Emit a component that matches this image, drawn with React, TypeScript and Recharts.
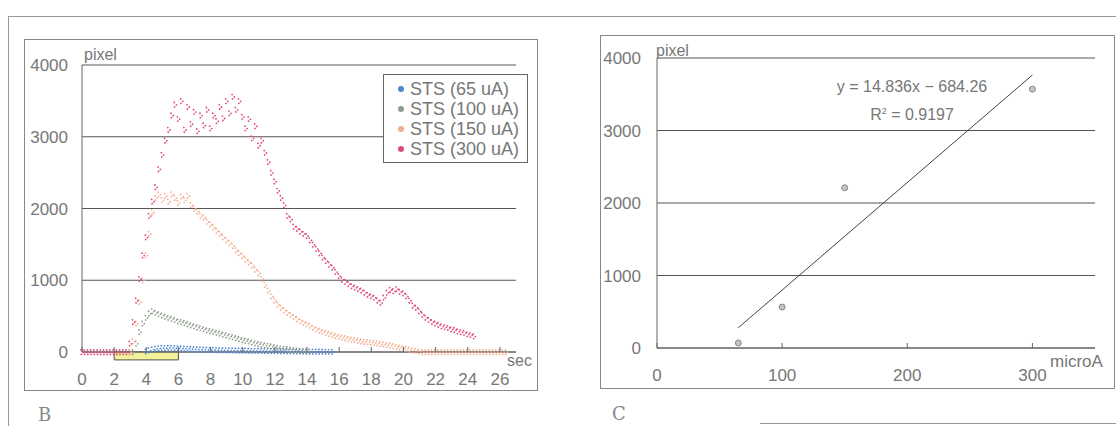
import React from "react";
import { ScatterChart, Scatter, XAxis, YAxis, CartesianGrid, Legend, ReferenceArea } from "recharts";

// sampling step of the time traces (sec)
const STEP = 0.2;

// panel B: pixel counts per trace
const sts65Start = 4.0;
const sts65 = [
  10, 25, 40, 50, 55, 60, 58, 62, 60, 58, 55, 52, 50, 48, 45, 42, 40, 38, 36, 35,
  33, 32, 30, 29, 28, 27, 26, 25, 24, 23, 22, 21, 21, 20, 19, 19, 18, 17, 17, 16,
  15, 15, 14, 13, 13, 12, 12, 11, 10, 10, 9, 9, 8, 8, 7, 7, 6, 6, 5,
];
const sts100Start = 3.0;
const sts100 = [
  0, 0, 120, 280, 400, 480, 540, 570, 550, 530,
  510, 495, 480, 465, 450, 430, 420, 405, 390, 375,
  360, 345, 335, 320, 305, 295, 285, 270, 260, 245,
  235, 220, 210, 195, 185, 170, 160, 150, 135, 125,
  115, 105, 95, 90, 80, 70, 62, 55, 48, 42,
  36, 30, 25, 20, 15, 10,
];
const sts150Start = 3.0;
const sts150 = [
  0, 150, 400, 700, 1000, 1350, 1650, 1950, 2150, 2200,
  2120, 2180, 2100, 2200, 2150, 2080, 2170, 2120, 2180, 2050,
  2000, 1960, 1900, 1880, 1820, 1780, 1740, 1690, 1650, 1600,
  1560, 1520, 1480, 1420, 1380, 1340, 1290, 1250, 1210, 1150,
  1100, 1020, 940, 860, 780, 720, 660, 620, 580, 550,
  520, 490, 460, 430, 410, 390, 370, 340, 320, 300,
  285, 270, 255, 240, 225, 215, 205, 195, 185, 175,
  170, 160, 150, 145, 140, 135, 130, 125, 115, 110,
  100, 95, 85, 75, 65, 55, 45, 35, 25, 20,
  10, 0, 0, 0, 0, 0, 0, 0, 0, 0,
  0, 0, 0, 0, 0, 0, 0, 0, 0, 0,
  0, 0, 0, 0, 0, 0, 0, 0,
];
const sts300Start = 0.0;
const sts300 = [
  0, 0, 0, 0, 0, 0, 0, 0, 0, 0, 0, 0, 0, 0, 0,
  120, 420, 720, 1020, 1350, 1600, 1900, 2100, 2300, 2550, 2750, 2950, 3100, 3300, 3450,
  3250, 3500, 3100, 3420, 3180, 3350, 3080, 3300, 3160, 3380,
  3120, 3300, 3220, 3420, 3260, 3500, 3330, 3560, 3380, 3500,
  3280, 3120, 3250, 2980, 3150, 2880, 2950, 2780, 2650, 2500,
  2380, 2250, 2150, 2050, 1900, 1850, 1750, 1720, 1680, 1650,
  1620, 1560, 1500, 1440, 1380, 1320, 1270, 1220, 1180, 1120,
  1060, 1010, 980, 950, 920, 900, 880, 860, 830, 800,
  780, 760, 720, 690, 760, 830, 870, 850, 880, 840,
  820, 780, 720, 650, 620, 570, 520, 480, 450, 420,
  400, 380, 360, 350, 340, 320, 310, 290, 280, 270,
  250, 240, 220,
];
const seriesNames = ["STS (65 uA)", "STS (100 uA)", "STS (150 uA)", "STS (300 uA)"];
const seriesColors = ["#4d86d6", "#8e9d8c", "#f5ad90", "#e04a78"];
const secTicks = [0, 2, 4, 6, 8, 10, 12, 14, 16, 18, 20, 22, 24, 26];
const pixelTicks = [0, 1000, 2000, 3000, 4000];
const stimStart = 2;
const stimEnd = 6;

// panel C: peak vs current
const currents = [65, 100, 150, 300];
const peakPixels = [70, 565, 2210, 3570];
const fitX = [65, 300];
const fitY = [280, 3766];
const microTicks = [0, 100, 200, 300];

const FONT = "'Liberation Sans', Arial, sans-serif";
const TEXT = "#777";

const toPoints = (start: number, values: number[]) =>
  values.map((v, i) => ({ t: +(start + i * STEP).toFixed(2), v }));

const traces = [
  toPoints(sts65Start, sts65),
  toPoints(sts100Start, sts100),
  toPoints(sts150Start, sts150),
  toPoints(sts300Start, sts300),
];
const peaks = currents.map((c, i) => ({ t: c, v: peakPixels[i] }));
const fit = fitX.map((c, i) => ({ t: c, v: fitY[i] }));

// speckled marker, like the scanned dotted markers
const speckle = (color: string) => (p: any) => (
  <g fill={color}>
    <circle cx={p.cx - 1} cy={p.cy - 2} r={0.9} />
    <circle cx={p.cx + 1.2} cy={p.cy + 0.4} r={0.9} />
    <circle cx={p.cx - 0.6} cy={p.cy + 2.4} r={0.9} />
  </g>
);

const bottomTick = (offset: number) => (p: any) => (
  <g>
    <line x1={p.x} y1={p.y} x2={p.x} y2={p.y - 5} stroke="#666" />
    <text x={p.x} y={p.y + offset} textAnchor="middle" dy="0.35em" fontSize={17} fontFamily={FONT} fill={TEXT}>
      {p.payload.value}
    </text>
  </g>
);

const legendBox = () => (
  <div style={{ border: "1px solid #666", background: "#fff", width: 145, height: 89, boxSizing: "border-box", paddingTop: 4 }}>
    {seriesNames.map((n, i) => (
      <div key={n} style={{ display: "flex", alignItems: "center", height: 20, fontFamily: FONT, fontSize: 18, color: TEXT }}>
        <span style={{ width: 6, height: 6, borderRadius: 3, background: seriesColors[i], marginLeft: 14, marginRight: 6 }} />
        {n}
      </div>
    ))}
  </div>
);

const abs = (s: React.CSSProperties): React.CSSProperties => ({ position: "absolute", ...s });

export default function App() {
  return (
    <div style={{ position: "absolute", left: 0, top: 0, width: 1116, height: 426, background: "#fff", overflow: "hidden" }}>
      {/* scanned figure frames */}
      <div style={abs({ left: 8, top: 16, width: 1108, height: 420, borderTop: "1px solid #999", borderLeft: "1px solid #999" })} />
      <div style={abs({ left: 24, top: 39, width: 512, height: 350, border: "1px solid #888" })} />
      <div style={abs({ left: 600, top: 35, width: 513, height: 352, border: "1px solid #888" })} />
      <div style={abs({ left: 760, top: 423, width: 356, borderTop: "1px solid #999" })} />

      {/* B: time traces */}
      <div style={abs({ left: 0, top: 0 })}>
        <ScatterChart width={560} height={426} margin={{ top: 65, right: 44, left: 22, bottom: 44 }}>
          <CartesianGrid vertical={false} stroke="#555" />
          <XAxis type="number" dataKey="t" domain={[0, 27]} ticks={secTicks} height={30}
            axisLine={{ stroke: "#666" }} tickLine={false} tickSize={0} tickMargin={0} tick={bottomTick(27)} />
          <YAxis type="number" dataKey="v" domain={[0, 4000]} ticks={pixelTicks} width={60}
            axisLine={{ stroke: "#666" }} tickLine={false} tickSize={0} tickMargin={14}
            tick={{ fontSize: 17, fontFamily: FONT, fill: TEXT }} />
          <ReferenceArea x1={stimStart} x2={stimEnd} y1={-110} y2={0} ifOverflow="visible"
            fill="#f3f19a" fillOpacity={1} stroke="#555" />
          {traces.map((d, i) => (
            <Scatter key={seriesNames[i]} name={seriesNames[i]} data={d} fill={seriesColors[i]}
              shape={speckle(seriesColors[i])} isAnimationActive={false} />
          ))}
          <Legend layout="horizontal" verticalAlign="middle" align="center" content={legendBox}
            wrapperStyle={{ position: "absolute", left: 383, top: 74, width: 145, height: 89 }} />
        </ScatterChart>
      </div>
      <div style={abs({ left: 84, top: 46, fontFamily: FONT, fontSize: 16, color: TEXT })}>pixel</div>
      <div style={abs({ left: 507, top: 352, fontFamily: FONT, fontSize: 16, color: TEXT })}>sec</div>
      <div style={abs({ left: 38, top: 404, fontFamily: "'DejaVu Serif', serif", fontSize: 18, color: "#888" })}>B</div>

      {/* C: peak vs stimulus current */}
      <div style={abs({ left: 560, top: 0 })}>
        <ScatterChart width={556} height={426} margin={{ top: 58, right: 21, left: 37, bottom: 48 }}>
          <CartesianGrid vertical={false} stroke="#555" />
          <XAxis type="number" dataKey="t" domain={[0, 350]} ticks={microTicks} height={30}
            axisLine={{ stroke: "#666" }} tickLine={false} tickSize={0} tickMargin={0} tick={bottomTick(27)} />
          <YAxis type="number" dataKey="v" domain={[0, 4000]} ticks={pixelTicks} width={60}
            axisLine={{ stroke: "#666" }} tickLine={false} tickSize={0} tickMargin={16}
            tick={{ fontSize: 17, fontFamily: FONT, fill: TEXT }} />
          <Scatter data={fit} line={{ stroke: "#444", strokeWidth: 1 }} shape={() => <g />} isAnimationActive={false} />
          <Scatter data={peaks} fill="#bbb" stroke="#888" strokeWidth={1}
            shape={(p: any) => <circle cx={p.cx} cy={p.cy} r={3} fill="#c4c4c4" stroke="#888" />} isAnimationActive={false} />
        </ScatterChart>
      </div>
      <div style={abs({ left: 656, top: 42, fontFamily: FONT, fontSize: 16, color: TEXT })}>pixel</div>
      <div style={abs({ left: 1050, top: 352, fontFamily: FONT, fontSize: 17, color: TEXT })}>microA</div>
      <div style={abs({ left: 830, top: 75, width: 164, textAlign: "center", fontFamily: FONT, fontSize: 16, color: TEXT, lineHeight: "24px" })}>
        y = 14.836x − 684.26<br />
        R<sup style={{ fontSize: 9 }}>2</sup> = 0.9197
      </div>
      <div style={abs({ left: 612, top: 403, fontFamily: "'DejaVu Serif', serif", fontSize: 18, color: "#888" })}>C</div>
    </div>
  );
}
